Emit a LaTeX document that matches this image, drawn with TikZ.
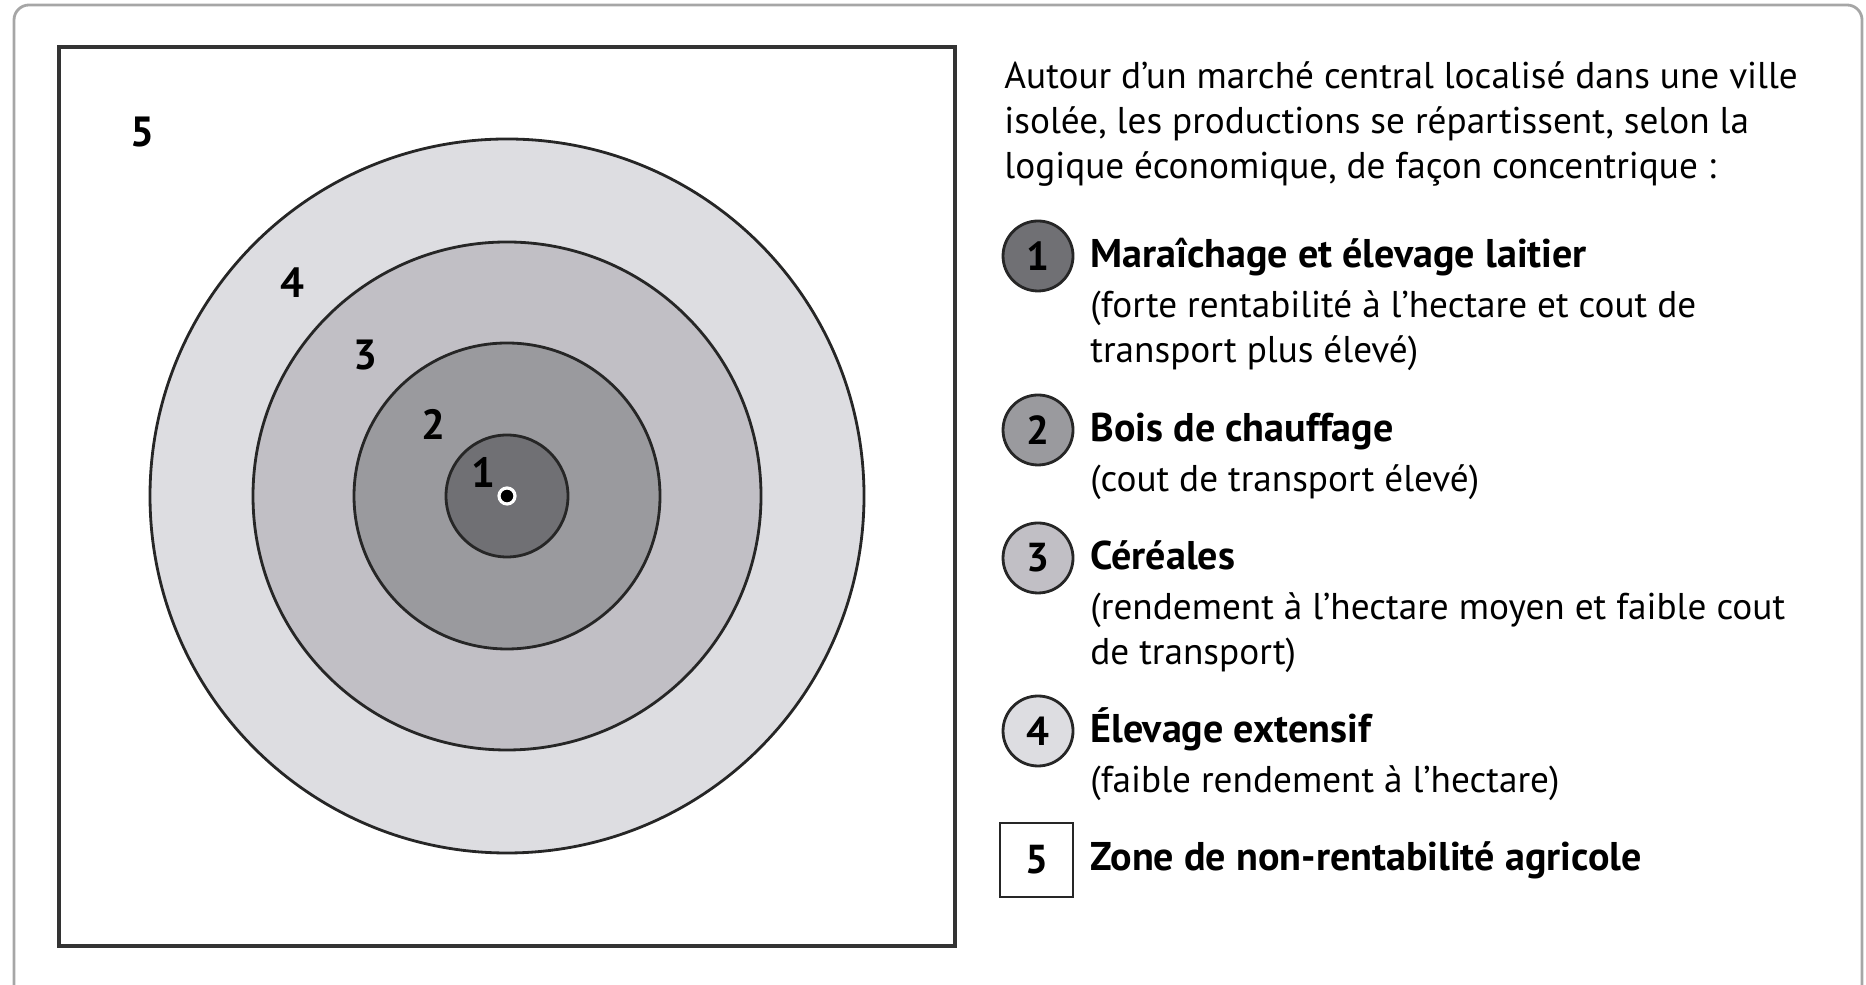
\documentclass[tikz,border=0pt]{standalone}
\usepackage{fontspec}
\setmainfont{PT Sans}
\usepackage{tikz}
\usetikzlibrary{positioning}

\definecolor{zoneOne}{RGB}{112,112,116}
\definecolor{zoneTwo}{RGB}{154,154,158}
\definecolor{zoneThree}{RGB}{193,191,197}
\definecolor{zoneFour}{RGB}{221,221,225}

\begin{document}
\begin{tikzpicture}[thick,
        zone/.style = {circle,
            draw=black!85,
            inner sep=0pt},
        num/.style = {font=\bfseries\fontsize{12}{14}\selectfont},
        key/.style = {circle,
            draw=black!85,
            minimum size=0.7cm,
            inner sep=0pt,
            font=\bfseries\fontsize{11.5}{13}\selectfont},
        txt/.style = {anchor=base west,
            align=left,
            inner sep=0pt,
            font=\fontsize{10.6}{12.9}\selectfont},
        head/.style = {txt,
            font=\bfseries\fontsize{11.4}{12.9}\selectfont}]

    \useasboundingbox (0,0) rectangle (18.66,9.85);

    % Outer frame and map square
    \draw[gray!70, rounded corners=0.15cm] (0.14,-0.5) rectangle (18.62,9.80);
    \draw[black!80, line width=1pt] (0.59,0.39) rectangle (9.55,9.38);

    % Concentric zones round the market
    \coordinate (centre) at (5.07,4.89);
    \node[zone, minimum size=7.14cm, fill=zoneFour] (ring4) at (centre) {};
    \node[zone, minimum size=5.08cm, fill=zoneThree] (ring3) at (centre) {};
    \node[zone, minimum size=3.06cm, fill=zoneTwo] (ring2) at (centre) {};
    \node[zone, minimum size=1.22cm, fill=zoneOne] (ring1) at (centre) {};
    \node[circle, fill=black, draw=white, line width=0.9pt,
        minimum size=0.16cm, inner sep=0pt] (market) at (centre) {};

    % Zone numbers
    \node[num] (n5) at (1.42,8.53) {5};
    \node[num] (n4) at (2.92,7.02) {4};
    \node[num] (n3) at (3.65,6.30) {3};
    \node[num] (n2) at (4.33,5.61) {2};
    \node[num] (n1) at (4.83,5.13) {1};

    % Intro text (base = last line)
    \node[txt] (intro) at (10.03,8.06) {Autour d’un marché central localisé dans une ville\\
        isolée, les productions se répartissent, selon la\\
        logique économique, de façon concentrique :};

    % Legend keys
    \node[key, fill=zoneOne] (k1) at (10.38,7.29) {1};
    \node[key, fill=zoneTwo] (k2) at (10.38,5.55) {2};
    \node[key, fill=zoneThree] (k3) at (10.38,4.27) {3};
    \node[key, fill=zoneFour] (k4) at (10.38,2.54) {4};
    \node[key, rectangle, minimum width=0.73cm,
        minimum height=0.74cm] (k5) at (10.365,1.25) {5};

    % Legend texts
    \node[head] (t1) at (10.89,7.17) {Maraîchage et élevage laitier};
    \node[txt] (d1) at (10.89,6.225) {(forte rentabilité à l’hectare et cout de\\
        transport plus élevé)};
    \node[head] (t2) at (10.89,5.43) {Bois de chauffage};
    \node[txt] (d2) at (10.89,4.93) {(cout de transport élevé)};
    \node[head] (t3) at (10.89,4.15) {Céréales};
    \node[txt] (d3) at (10.89,3.205) {(rendement à l’hectare moyen et faible cout\\
        de transport)};
    \node[head] (t4) at (10.89,2.42) {Élevage extensif};
    \node[txt] (d4) at (10.89,1.92) {(faible rendement à l’hectare)};
    \node[head] (t5) at (10.89,1.14) {Zone de non-rentabilité agricole};

\end{tikzpicture}
\end{document}
